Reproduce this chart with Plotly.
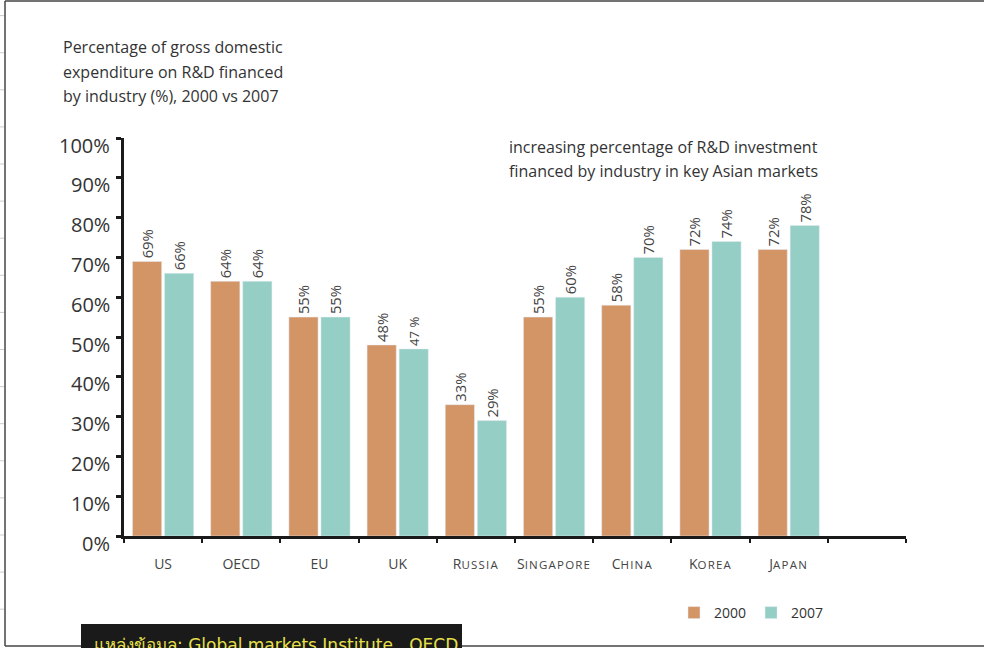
import plotly.graph_objects as go

# data
countries = ["US", "OECD", "EU", "UK", "Russia", "Singapore", "China", "Korea", "Japan"]
acronyms = ["US", "OECD", "EU", "UK"]
share_2000 = [69, 64, 55, 48, 33, 55, 58, 72, 72]
share_2007 = [66, 64, 55, 47, 29, 60, 70, 74, 78]
labels_2000 = ["69%", "64%", "55%", "48%", "33%", "55%", "58%", "72%", "72%"]
labels_2007 = ["66%", "64%", "55%", "47 %", "29%", "60%", "70%", "74%", "78%"]
y_ticks = [0, 10, 20, 30, 40, 50, 60, 70, 80, 90, 100]

ORANGE = "#D39466"
TEAL = "#94CEC4"
INK = "#333333"
FONT = "Open Sans"

W, H = 984, 648
L, R, T, B = 124, 78, 138, 112


def small_caps(name):
    if name in acronyms:
        return name
    return (name[0].upper() + "<span style='font-size:11.5px;letter-spacing:1.2px'>"
            + name[1:].upper() + "</span>")


# one empty slot at the end of the axis, as in the original
cats = [small_caps(c) for c in countries] + [" "]


def px(x):
    return (x - L) / (W - L - R)


def py(y):
    return (H - B - y) / (H - T - B)


fig = go.Figure()
fig.add_trace(go.Bar(x=cats, y=share_2000 + [None], name="2000",
                     marker_color=ORANGE, text=labels_2000 + [""],
                     textposition="outside", textangle=-90, cliponaxis=False,
                     textfont=dict(size=15, color="#444444", family=FONT)))
fig.add_trace(go.Bar(x=cats, y=share_2007 + [None], name="2007",
                     marker_color=TEAL, text=labels_2007 + [""],
                     textposition="outside", textangle=-90, cliponaxis=False,
                     textfont=dict(size=15, color="#444444", family=FONT)))

fig.update_layout(
    width=W, height=H,
    margin=dict(l=L, r=R, t=T, b=B),
    paper_bgcolor="white", plot_bgcolor="white",
    font=dict(family=FONT, color=INK),
    barmode="group", bargap=0.18, bargroupgap=0.09,
    showlegend=True,
    legend=dict(orientation="h", x=px(674), xanchor="left", y=py(613), yanchor="middle",
                font=dict(size=14, color=INK), bgcolor="rgba(0,0,0,0)", traceorder="normal"),
)

fig.update_xaxes(type="category", categoryorder="array", categoryarray=cats,
                 range=[-0.5, 9.5], tickson="boundaries", tickangle=0,
                 showline=True, linecolor="#1a1a1a", linewidth=3,
                 ticks="outside", ticklen=4, tickwidth=2, tickcolor="#1a1a1a",
                 tickfont=dict(size=14, color="#444444"), ticklabelstandoff=13,
                 showgrid=False, zeroline=False)
fig.update_yaxes(range=[0, 100], tickvals=y_ticks, showticklabels=False,
                 showline=True, linecolor="#1a1a1a", linewidth=3,
                 ticks="outside", ticklen=5, tickwidth=3, tickcolor="#1a1a1a",
                 showgrid=False, zeroline=False)

# y labels sit a little below their ticks in the original
for v in y_ticks:
    fig.add_annotation(text=f"{v}%", xref="paper", yref="y", x=0, y=v,
                       xanchor="right", yanchor="middle", xshift=-12, yshift=-7,
                       showarrow=False, font=dict(size=20, color=INK))

# headline, one annotation per line to get the wider line spacing
title_lines = ["Percentage of gross domestic", "expenditure on R&D financed",
               "by industry (%), 2000 vs 2007"]
for i, line in enumerate(title_lines):
    fig.add_annotation(text=line, xref="paper", yref="paper", x=px(61), y=py(47 + 24.5 * i),
                       xanchor="left", yanchor="middle", showarrow=False,
                       font=dict(size=16, color=INK))

note_lines = ["increasing percentage of R&D investment", "financed by industry in key Asian markets"]
for i, line in enumerate(note_lines):
    fig.add_annotation(text=line, xref="paper", yref="paper", x=px(507), y=py(147 + 23.5 * i),
                       xanchor="left", yanchor="middle", showarrow=False,
                       font=dict(size=16, color=INK))

# page frame: top, left and bottom edges, plus the faint grid stubs outside it
frame = dict(color="#444444", width=1.5)
fig.add_shape(type="line", xref="paper", yref="paper", x0=px(5), x1=px(984), y0=py(1), y1=py(1), line=frame)
fig.add_shape(type="line", xref="paper", yref="paper", x0=px(5), x1=px(5), y0=py(1), y1=py(646), line=frame)
fig.add_shape(type="line", xref="paper", yref="paper", x0=px(5), x1=px(984), y0=py(646), y1=py(646), line=frame)
for k in range(17):
    yy = 15.6 + 37.1 * k
    fig.add_shape(type="line", xref="paper", yref="paper", x0=px(0), x1=px(4), y0=py(yy), y1=py(yy),
                  line=dict(color="#cccccc", width=1))

# source badge
fig.add_shape(type="rect", xref="paper", yref="paper", x0=px(81), x1=px(462), y0=py(660), y1=py(624),
              line=dict(width=0), fillcolor="#1a1a1a")
fig.add_annotation(text="แหล่งข้อมูล: Global markets Institute , OECD", xref="paper", yref="paper",
                   x=px(92), y=py(645), xanchor="left", yanchor="middle", showarrow=False,
                   font=dict(size=17, color="#E8E04A", family="DejaVu Sans"))

# drop the page's default body margin so the figure fills the window like the original
fig.write_html("out.html", config={"displayModeBar": False},
               post_script="document.body.style.margin='0';document.body.style.overflow='hidden';")
